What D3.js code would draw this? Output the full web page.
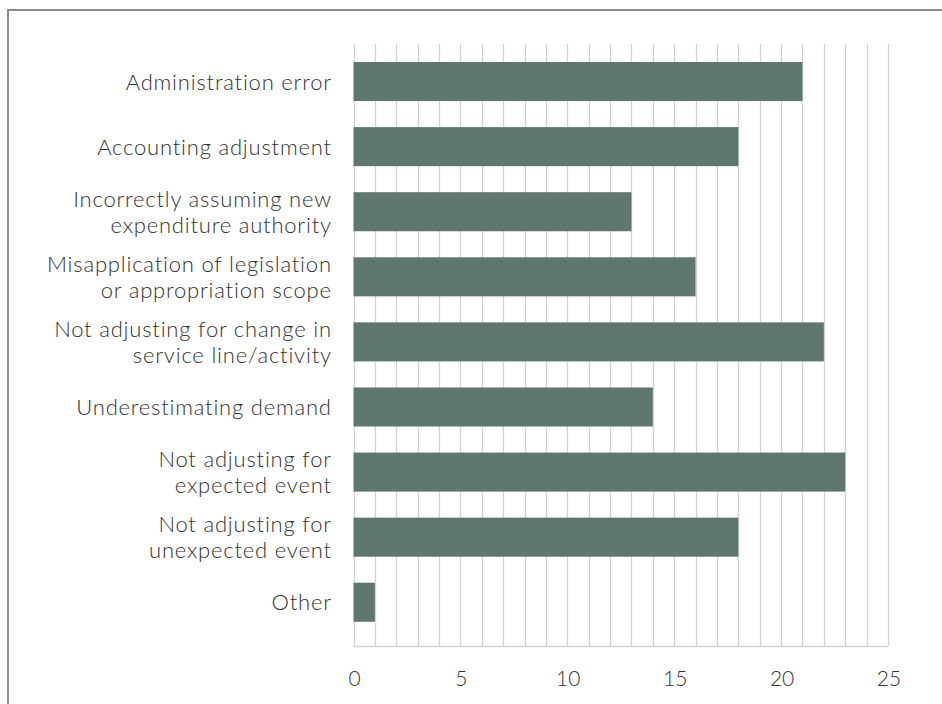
<html>
<head>
<script src="https://cdn.jsdelivr.net/npm/d3@7"></script>
<style type="text/css">
    body{ margin: 0; background: #fff; }
    text{ font-family: Lato, "Open Sans", sans-serif; font-weight: 300; fill: #333; }
    .cat{ letter-spacing: 0.8px; }
</style>
</head>
<body>
<script type="text/javascript">
var width = 942,
    height = 704;

// data
var categories = [
    ['Administration error'],
    ['Accounting adjustment'],
    ['Incorrectly assuming new', 'expenditure authority'],
    ['Misapplication of legislation', 'or appropriation scope'],
    ['Not adjusting for change in', 'service line/activity'],
    ['Underestimating demand'],
    ['Not adjusting for', 'expected event'],
    ['Not adjusting for', 'unexpected event'],
    ['Other']
];
var counts = [21, 18, 13, 16, 22, 14, 23, 18, 1];
var tickValues = [0, 5, 10, 15, 20, 25];

var rows = categories.map(function(c, i){ return { lines: c, value: counts[i] }; });

var plotTop = 44,
    plotBottom = 646.5,
    plotLeft = 353.5,
    plotRight = 888;

var svg = d3.select('body')
    .append('svg')
        .attr('width', width)
        .attr('height', height);

// outer frame (runs past the right and bottom edges)
svg.append('rect')
    .attr('x', 8)
    .attr('y', 10)
    .attr('width', 960)
    .attr('height', 720)
    .attr('fill', 'none')
    .attr('stroke', '#8c8c8c')
    .attr('stroke-width', 2);

var x = d3.scaleLinear()
    .domain([0, 25])
    .range([plotLeft, plotRight]);

var y = d3.scaleBand()
    .domain(d3.range(rows.length))
    .range([49, 634.8])
    .paddingInner(0.4)
    .paddingOuter(0.2);

// vertical gridlines, one per unit
svg.append('g')
    .selectAll('line')
    .data(x.ticks(25))
    .enter()
    .append('line')
        .attr('x1', function(d){ return Math.round(x(d)) + 0.5; })
        .attr('x2', function(d){ return Math.round(x(d)) + 0.5; })
        .attr('y1', plotTop)
        .attr('y2', plotBottom)
        .attr('stroke', '#d4d4d4')
        .attr('stroke-width', 1.3);

// bottom axis line
svg.append('line')
    .attr('x1', plotLeft)
    .attr('x2', plotRight)
    .attr('y1', plotBottom)
    .attr('y2', plotBottom)
    .attr('stroke', '#d4d4d4')
    .attr('stroke-width', 1.5);

svg.append('g')
    .selectAll('rect')
    .data(rows)
    .enter()
    .append('rect')
        .attr('x', x(0))
        .attr('y', function(d, i){ return y(i); })
        .attr('width', function(d){ return x(d.value) - x(0); })
        .attr('height', y.bandwidth())
        .attr('fill', '#60776f');

// category labels
var labels = svg.append('g')
    .selectAll('text')
    .data(rows)
    .enter()
    .append('text')
        .attr('class', 'cat')
        .attr('text-anchor', 'end')
        .attr('font-size', 22)
        .attr('y', function(d, i){ return y(i) + y.bandwidth() / 2; });

labels.selectAll('tspan')
    .data(function(d){
        return d.lines.map(function(l, j){ return { text: l, j: j, n: d.lines.length }; });
    })
    .enter()
    .append('tspan')
        .attr('x', 331.8)
        .attr('dy', function(t){
            if (t.j > 0) return 25.7;
            return (8 - (t.n - 1) * 12.85);
        })
        .text(function(t){ return t.text; });

// tick labels
svg.append('g')
    .selectAll('text')
    .data(tickValues)
    .enter()
    .append('text')
        .attr('x', function(d){ return x(d) + 1; })
        .attr('y', 685.5)
        .attr('text-anchor', 'middle')
        .attr('font-size', 21)
        .text(function(d){ return d; });
</script>
</body>
</html>
